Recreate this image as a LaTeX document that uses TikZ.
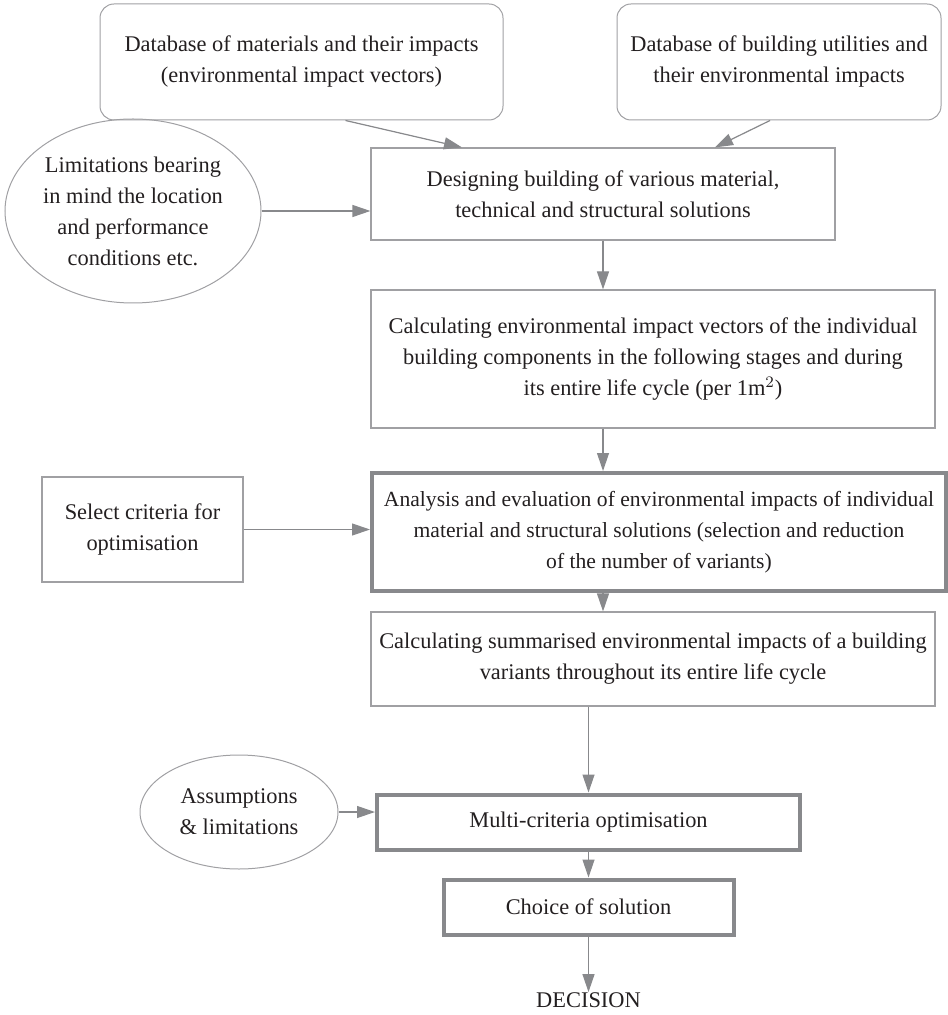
\documentclass[tikz,border=0pt]{standalone}
\usepackage{fontspec}
\setmainfont{Liberation Serif}
\definecolor{ink}{RGB}{35,31,32}
\definecolor{lineg}{RGB}{160,160,163}
\definecolor{thickg}{RGB}{136,137,140}
\usetikzlibrary{arrows.meta, positioning, shapes.geometric, calc}

\begin{document}
\begin{tikzpicture}[
      x=0.5pt, y=-0.5pt,
      every node/.style={font=\fontsize{11.2}{15.5}\selectfont, text=ink, align=center, inner sep=0pt},
      rbox/.style={rectangle, rounded corners=7pt, draw=lineg, line width=0.5pt},
      box/.style={rectangle, draw=lineg, line width=0.6pt},
      heavybox/.style={rectangle, draw=thickg, line width=2pt},
      oval/.style={ellipse, draw=lineg, line width=0.5pt},
      arrow/.style={-{Triangle[length=9pt, width=6pt]}, draw=thickg, fill=thickg, line width=0.6pt}
    ]
    \useasboundingbox (0,0) rectangle (947,1015);

    % Inputs
    \node[rbox, minimum width=201.5pt, minimum height=58pt] (matdb) at (301.5,62)
      {Database of materials and their impacts\\(environmental impact vectors)};
    \node[rbox, minimum width=162pt, minimum height=58pt] (utildb) at (779,62)
      {Database of building utilities and\\their environmental impacts};
    \node[oval, minimum width=128pt, minimum height=92pt] (limits) at (133,211)
      {Limitations bearing\\in mind the location\\and performance\\conditions etc.};

    % Main flow
    \node[box, minimum width=232pt, minimum height=46pt] (design) at (603,194)
      {Designing building of various material,\\technical and structural solutions};
    \node[box, minimum width=282pt, minimum height=69pt] (vectors) at (653,359)
      {Calculating environmental impact vectors of the individual\\building components in the following stages and during\\its entire life cycle (per 1m$^{2}$)};
    \node[box, minimum width=100.5pt, minimum height=52.5pt] (criteria) at (142.5,529.5)
      {Select criteria for\\optimisation};
    \node[heavybox, minimum width=287pt, minimum height=59pt,
          font=\fontsize{10.8}{15.5}\selectfont] (analysis) at (659,532)
      {Analysis and evaluation of environmental impacts of individual\\material and structural solutions (selection and reduction\\of the number of variants)};
    \node[box, minimum width=282pt, minimum height=47pt] (summary) at (653,659)
      {Calculating summarised environmental impacts of a building\\variants throughout its entire life cycle};
    \node[oval, minimum width=99pt, minimum height=57pt] (assume) at (239,812)
      {Assumptions\\\& limitations};
    \node[heavybox, minimum width=211.5pt, minimum height=27.5pt] (multi) at (588.5,822)
      {Multi-criteria optimisation};
    \node[heavybox, minimum width=145pt, minimum height=27.5pt] (choice) at (588.5,907)
      {Choice of solution};
    \node (decision) at (588.5,1000) {DECISION};

    % Connectors
    \draw[arrow] ($(matdb.south)+(44,0)$) -- ($(design.north)+(-141,0)$);
    \draw[arrow] ($(utildb.south)+(-9,0)$) -- ($(design.north)+(112,0)$);
    \draw[arrow] (limits) -- (design.west |- limits);
    \draw[arrow] (design.south) -- (design.south |- vectors.north);
    \draw[arrow] (design.south |- vectors.south) -- (design.south |- analysis.north);
    \draw[arrow] (criteria) -- (analysis.west |- criteria);
    \draw[arrow] (design.south |- analysis.south) -- (design.south |- summary.north);
    \draw[arrow] (multi.north |- summary.south) -- (multi.north);
    \draw[arrow] (assume) -- (multi.west |- assume);
    \draw[arrow] (multi.south) -- (choice.north);
    \draw[arrow] (choice.south) -- (decision.north);

  \end{tikzpicture}
\end{document}
